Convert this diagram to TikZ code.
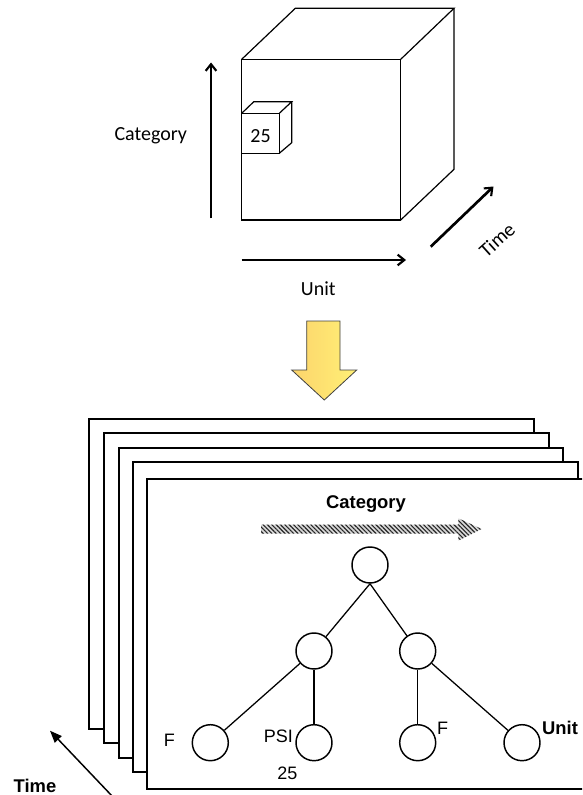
\documentclass[tikz,border=0pt]{standalone}
\usepackage{fontspec}
\setmainfont{Liberation Sans}
\newfontfamily\calibfont{Carlito}
\usetikzlibrary{arrows.meta,patterns.meta}

\definecolor{arrowleft}{RGB}{252,212,108}
\definecolor{arrowright}{RGB}{255,240,118}

\tikzset{every picture/.style={line width=0.75pt}}
\tikzset{
  cubeline/.style={line width=0.9pt},
  axisarrow/.style={line width=2pt,-{Straight Barb[length=5pt,width=8pt,line width=1.6pt]}},
  topfont/.style={font=\calibfont\fontsize{15}{18}\selectfont},
  page/.style={draw,fill=white,line width=1.5pt},
  treenode/.style={circle,draw,line width=1.1pt,minimum size=27pt,inner sep=0pt},
  treeedge/.style={line width=0.95pt},
  labelfont/.style={font=\fontsize{13.5}{16}\selectfont,anchor=base},
  boldlabel/.style={font=\bfseries\fontsize{13.8}{16}\selectfont,anchor=base}
}

\begin{document}
\begin{tikzpicture}[x=0.75pt,y=0.75pt,yscale=-1,xscale=1]
\useasboundingbox (0,0) rectangle (582,795);
\clip (0,0) rectangle (582,795);

%Shape: Cube
\draw [cubeline] (241.7,59.3) -- (400.7,59.3) -- (400.7,220) -- (241.7,220) -- cycle ;
\draw [cubeline] (241.7,59.3) -- (295.3,8.3) -- (454,8.3) -- (400.7,59.3) ;
\draw [cubeline] (454,8.3) -- (454,169.3) -- (400.7,220) ;

%Shape: Small cube
\draw [cubeline, fill=white] (241.7,113.3) -- (279.3,113.3) -- (279.3,153.3) -- (241.7,153.3) -- cycle ;
\draw [cubeline] (241.7,113.3) -- (253.8,101.7) -- (291.7,101.7) -- (279.3,113.3) ;
\draw [cubeline] (291.7,101.7) -- (291.7,142.7) -- (279.3,153.3) ;
\node [topfont, anchor=base] (cell) at (260.5,142.7) {25};

%Straight Lines: axes
\draw [axisarrow] (211,218.3) -- (211,62.5) ;
\node [topfont, anchor=base] (catlabel) at (150.8,140.7) {Category};
\draw [axisarrow] (241.7,260) -- (406,260) ;
\node [topfont, anchor=base] (unitlabel) at (318.3,295) {Unit};
\draw [axisarrow] (430.7,246.7) -- (493.5,186.5) ;
\node [topfont, rotate=42, inner sep=0pt] (timelabel) at (497,240) {Time};

%Shape: Down arrow
\draw [draw=black!75, line width=0.6pt, left color=arrowleft, right color=arrowright]
  (306.7,321) -- (340,321) -- (340,370) -- (356.7,370) -- (324.3,400) -- (291.7,370) -- (306.7,370) -- cycle ;

%Shape: Stacked pages
\draw [page] (89.3,419) rectangle (534,729) ;
\draw [page] (104,433) rectangle (548.7,743.3) ;
\draw [page] (118.7,447.7) rectangle (563.3,757.7) ;
\draw [page] (132.7,461.7) rectangle (577.7,771.7) ;
\draw [page] (147,479.3) rectangle (592,789.3) ;

%Shape: Hatched arrow
\path [fill=black!15, postaction={pattern={Lines[angle=-45,distance=2.3pt,line width=0.85pt]}, pattern color=black!85}]
  (261,524.5) -- (458.3,524.5) -- (458.3,518.3) -- (481.7,529) -- (458.3,540.7) -- (458.3,533.5) -- (261,533.5) -- cycle ;
\node [boldlabel] (cattitle) at (366,508.3) {Category};

%Tree
\node [treenode] (root) at (370,565) {};
\node [treenode] (midl) at (314,651) {};
\node [treenode] (midr) at (417.7,651) {};
\node [treenode] (leafa) at (210.3,742.7) {};
\node [treenode] (leafb) at (314,742.7) {};
\node [treenode] (leafc) at (417.7,742.7) {};
\node [treenode] (leafd) at (522,742.7) {};

\draw [treeedge] (root.south) -- (midl) ;
\draw [treeedge] (root.south) -- (midr) ;
\draw [treeedge] (midl) -- (leafa) ;
\draw [treeedge] (midl) -- (leafb) ;
\draw [treeedge] (midr) -- (leafc) ;
\draw [treeedge] (midr) -- (leafd) ;

\node [labelfont] (fa) at (169.3,746.7) {F};
\node [labelfont] (psi) at (278.3,742.3) {PSI};
\node [labelfont] (val) at (287.3,779) {25};
\node [labelfont] (fc) at (442.7,734) {F};
\node [boldlabel] (unitname) at (560,734) {Unit};

%Straight Lines: time arrow
\coordinate (timestart) at (113,797);
\draw [line width=1.1pt, -{Triangle[length=9pt,width=7pt]}] (timestart) -- (50,730.7) ;
\node [boldlabel] (timename) at (35,792.3) {Time};

\end{tikzpicture}
\end{document}
